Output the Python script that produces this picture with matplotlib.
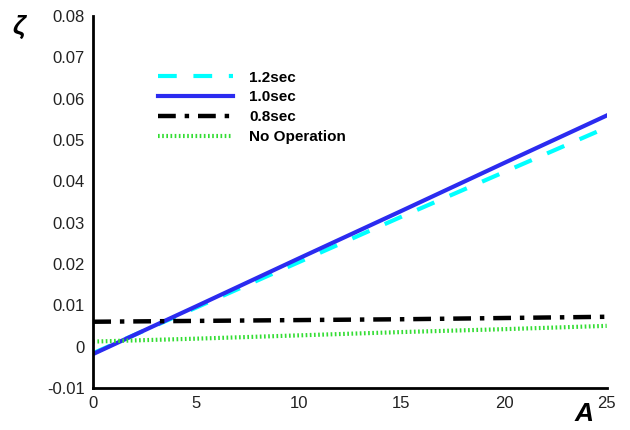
import numpy as np
import matplotlib
matplotlib.use("Agg")
import matplotlib.pyplot as plt

plt.rcParams["font.family"] = ["Liberation Sans", "DejaVu Sans"]

# amplitude A vs damping ratio zeta
A = [0, 5, 10, 15, 20, 25]
zeta_12 = [-0.0016, 0.0094, 0.0204, 0.0314, 0.0422, 0.0530]
zeta_10 = [-0.0018, 0.0097, 0.0213, 0.0328, 0.0444, 0.0559]
zeta_08 = [0.0060, 0.0062, 0.0064, 0.0066, 0.0069, 0.0072]
zeta_no = [0.0012, 0.0019, 0.0027, 0.0035, 0.0042, 0.0050]
labels = ["1.2sec", "1.0sec", "0.8sec", "No Operation"]

fig = plt.figure(figsize=(6.3, 4.3), dpi=100)
ax = fig.add_axes([0.148, 0.098, 0.815, 0.865])

ax.plot(A, zeta_12, color="#00ffff", lw=3, dashes=(4.5, 4), label=labels[0])
ax.plot(A, zeta_10, color="#2b2bf0", lw=3, label=labels[1])
ax.plot(A, zeta_08, color="black", lw=3.2, dashes=(4, 2, 1, 2), label=labels[2])
ax.plot(A, zeta_no, color="#33dd33", lw=3, dashes=(0.4, 0.6), label=labels[3])

ax.set_xlim(0, 25)
ax.set_ylim(-0.01, 0.08)
ax.set_xticks([0, 5, 10, 15, 20, 25])
ax.set_yticks(np.arange(-0.01, 0.081, 0.01))
ax.set_yticklabels(["-0.01", "0", "0.01", "0.02", "0.03", "0.04",
                    "0.05", "0.06", "0.07", "0.08"])
ax.tick_params(length=0, labelsize=12, pad=6, labelcolor="#222222")
for s in ["top", "right"]:
    ax.spines[s].set_visible(False)
for s in ["left", "bottom"]:
    ax.spines[s].set_linewidth(2)

leg = ax.legend(loc="upper left", bbox_to_anchor=(0.1, 0.89), frameon=False,
                handlelength=4.9, prop={"weight": "bold", "size": 11},
                labelspacing=0.38, handletextpad=1.05)

fig.text(0.03, 0.965, "ζ", fontsize=19, fontweight="bold", style="italic",
         ha="center", va="top")
fig.text(0.927, 0.01, "A", fontsize=19, fontweight="bold", style="italic",
         ha="center", va="bottom")

fig.savefig("out.png", dpi=100)
